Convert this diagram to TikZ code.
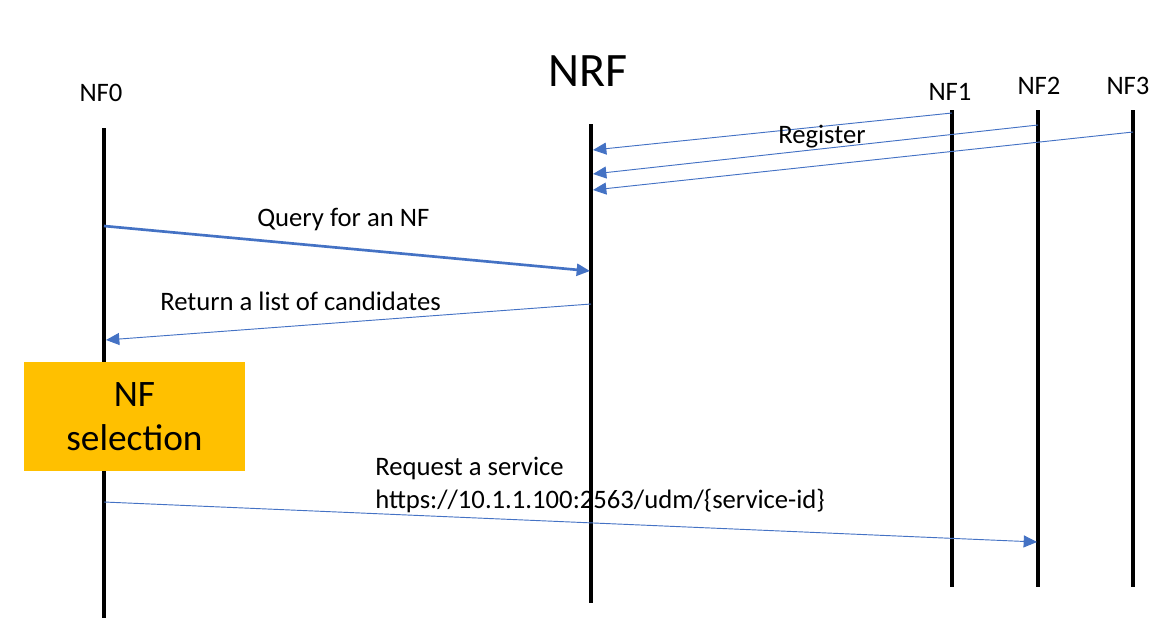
\documentclass[tikz,border=0pt]{standalone}
\usepackage{fontspec}
\setmainfont{Carlito}
\usetikzlibrary{arrows.meta}
\definecolor{msgblue}{HTML}{4472C4}
\definecolor{boxorange}{HTML}{FFC000}

\begin{document}
\begin{tikzpicture}[x=0.75pt, y=-0.75pt,
        label_style/.style={font=\fontsize{20}{24}\selectfont, inner sep=0pt},
        title_style/.style={font=\fontsize{36}{43}\selectfont, inner sep=0pt},
        box_style/.style={fill=boxorange, minimum width=165.75pt, minimum height=81.75pt, align=center, inner sep=0pt, font=\fontsize{28}{33}\selectfont},
        life_style/.style={draw=black, line width=2.4pt},
        msg_style/.style={draw=msgblue, line width=0.7pt, -{Triangle[length=10pt,width=9pt]}},
        bold_msg_style/.style={msg_style, line width=2pt}]

        \useasboundingbox (0,0) rectangle (1168,643);

        % lifelines
        \coordinate (nf0top) at (104,128);  \coordinate (nf0bot) at (104,618);
        \coordinate (nrftop) at (591,124);  \coordinate (nrfbot) at (591,603);
        \coordinate (nf1top) at (952,110);  \coordinate (nf1bot) at (952,587);
        \coordinate (nf2top) at (1038,110); \coordinate (nf2bot) at (1038,587);
        \coordinate (nf3top) at (1133,110); \coordinate (nf3bot) at (1133,587);

        \draw [life_style] (nf0top) -- (nf0bot);
        \draw [life_style] (nrftop) -- (nrfbot);
        \draw [life_style] (nf1top) -- (nf1bot);
        \draw [life_style] (nf2top) -- (nf2bot);
        \draw [life_style] (nf3top) -- (nf3bot);

        \node [label_style, anchor=base](nf0) at (101,101) {NF0};
        \node [title_style, anchor=base](nrf) at (588,86) {NRF};
        \node [label_style, anchor=base](nf1) at (950,100) {NF1};
        \node [label_style, anchor=base](nf2) at (1039,94) {NF2};
        \node [label_style, anchor=base](nf3) at (1128,94) {NF3};

        \node [box_style](sel) at (134.5,416.5) {NF\\selection};

        % message end points
        \coordinate (r1a) at (952,113);  \coordinate (r1b) at (593,150);
        \coordinate (r2a) at (1038,125); \coordinate (r2b) at (593,174);
        \coordinate (r3a) at (1133,132); \coordinate (r3b) at (593,190);
        \coordinate (qa) at (104,226);   \coordinate (qb) at (590,271);
        \coordinate (ra) at (591,304);   \coordinate (rb) at (106,340);
        \coordinate (sa) at (104,502);   \coordinate (sb) at (1037,542);

        \draw [msg_style] (r1a) -- (r1b);
        \draw [msg_style] (r2a) -- (r2b);
        \draw [msg_style] (r3a) -- (r3b);
        \draw [bold_msg_style] (qa) -- (qb);
        \draw [msg_style] (ra) -- (rb);
        \draw [msg_style] (sa) -- (sb);

        \node [label_style, anchor=base west](reg) at (778,143) {Register};
        \node [label_style, anchor=base west](query) at (257,226) {Query for an NF};
        \node [label_style, anchor=base west](ret) at (160,310) {Return a list of candidates};
        \node [label_style, anchor=base west](req) at (375,475) {Request a service};
        \node [label_style, anchor=base west](url) at (375,508) {https://10.1.1.100:2563/udm/\{service-id\}};

        \end{tikzpicture}
\end{document}
